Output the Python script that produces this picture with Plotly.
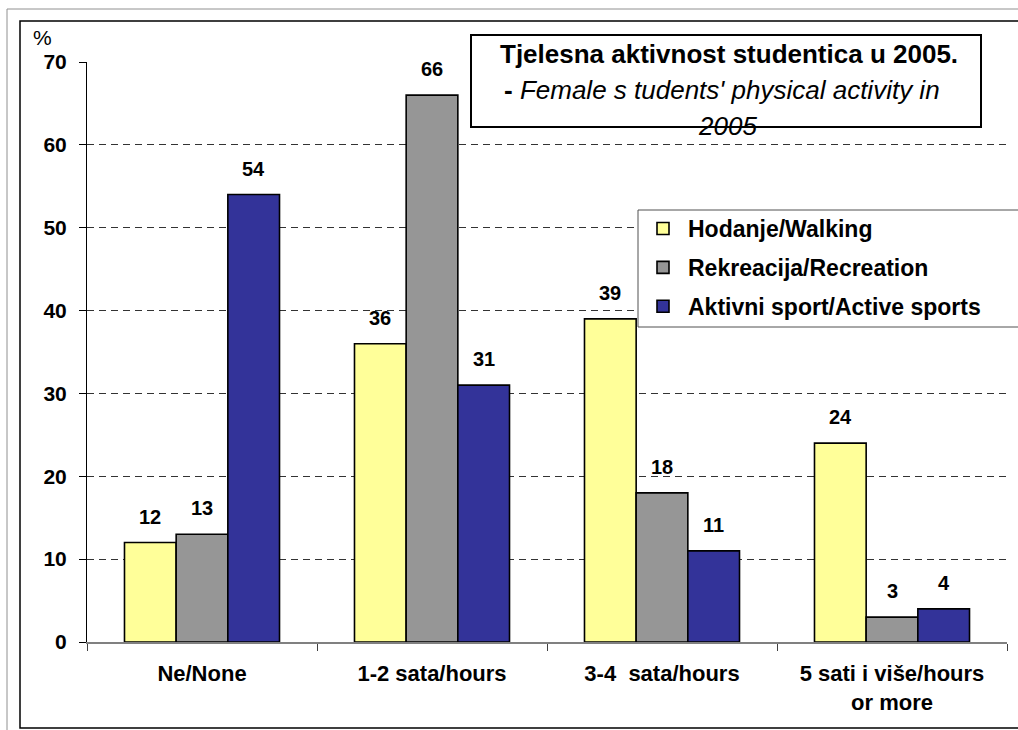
import plotly.graph_objects as go

categories = ["Ne/None", "1-2 sata/hours", "3-4  sata/hours", "5 sati i više/hours<br>or more"]
walking = [12, 36, 39, 24]
recreation = [13, 66, 18, 3]
active = [54, 31, 11, 4]
series_names = ["Hodanje/Walking", "Rekreacija/Recreation", "Aktivni sport/Active sports"]
series_colors = ["#FFFF99", "#969696", "#333399"]
y_ticks = [0, 10, 20, 30, 40, 50, 60, 70]

FONT = "Liberation Sans, Arial, sans-serif"
W, H = 1018, 730
ML, MR, MT, MB = 87, 11, 62, 88
PW, PH = W - ML - MR, H - MT - MB
BARGAP = 0.326

def px(x):
    return (x - ML) / PW

def py(y):
    return (H - MB - y) / PH

fig = go.Figure()
all_series = [walking, recreation, active]
for i, (name, vals, col) in enumerate(zip(series_names, all_series, series_colors)):
    fig.add_trace(go.Bar(
        x=categories, y=vals, name=name, legendgroup=name,
        marker=dict(color=col, line=dict(color="black", width=1.6)),
        cliponaxis=False,
    ))

# value labels above each bar
bar_w = PW / len(categories) * (1 - BARGAP) / len(all_series)
for i, vals in enumerate(all_series):
    for cat, v in zip(categories, vals):
        fig.add_annotation(
            x=cat, y=v, xref="x", yref="y", text=f"<b>{v}</b>", showarrow=False,
            xshift=(i - 1) * bar_w, yshift=13, yanchor="bottom", xanchor="center",
            font=dict(family=FONT, size=20, color="black"),
        )

fig.update_layout(
    width=W, height=H,
    margin=dict(l=ML, r=MR, t=MT, b=MB),
    paper_bgcolor="white", plot_bgcolor="white",
    barmode="group", bargap=BARGAP, bargroupgap=0,
    font=dict(family=FONT, size=18, color="black"),
    showlegend=True,
    legend=dict(
        x=px(638), y=py(207), xanchor="left", yanchor="top",
        borderwidth=0, bgcolor="rgba(0,0,0,0)",
        font=dict(family=FONT, size=23, color="black", weight="bold"),
        tracegroupgap=6, itemwidth=40,
    ),
    xaxis=dict(
        showline=True, linecolor="#808080", linewidth=1.5,
        ticks="outside", tickson="boundaries", ticklen=7, tickcolor="#404040",
        tickfont=dict(family=FONT, size=22, weight="bold"),
        ticklabelstandoff=11,
        showgrid=False,
    ),
    yaxis=dict(
        range=[0, 70], tickvals=y_ticks,
        showline=True, linecolor="black", linewidth=1,
        ticks="outside", ticklen=7, tickcolor="black",
        tickfont=dict(family=FONT, size=21, weight="bold"),
        ticklabelstandoff=8,
        showgrid=True, gridcolor="#333333", griddash="7px,5px", gridwidth=1,
        zeroline=False,
    ),
)

# outer frames
fig.add_shape(type="rect", xref="paper", yref="paper",
              x0=px(7), x1=px(1040), y0=py(745), y1=py(9),
              line=dict(color="#909090", width=1), layer="below")
fig.add_shape(type="rect", xref="paper", yref="paper",
              x0=px(20), x1=px(1040), y0=py(728), y1=py(21),
              line=dict(color="black", width=1.5), layer="below")

# legend box (extends past the right edge as in the reference)
fig.add_shape(type="rect", xref="paper", yref="paper",
              x0=px(638), x1=px(1040), y0=py(327), y1=py(210),
              line=dict(color="#505050", width=1), fillcolor="white", layer="above")

# % label
fig.add_annotation(xref="paper", yref="paper", x=px(42), y=py(38),
                   xanchor="center", yanchor="middle",
                   text="%", showarrow=False, font=dict(family=FONT, size=21, color="black"))

# title box
fig.add_shape(type="rect", xref="paper", yref="paper",
              x0=px(471), x1=px(981), y0=py(127), y1=py(35),
              line=dict(color="black", width=2), fillcolor="white", layer="above")
fig.add_annotation(xref="paper", yref="paper", x=px(729), y=py(54),
                   xanchor="center", yanchor="middle",
                   text="<b>Tjelesna aktivnost studentica u 2005.</b>", showarrow=False,
                   font=dict(family=FONT, size=26, color="black"))
fig.add_annotation(xref="paper", yref="paper", x=px(722), y=py(90),
                   xanchor="center", yanchor="middle",
                   text="<b>-</b> <i>Female s tudents' physical activity in</i>", showarrow=False,
                   font=dict(family=FONT, size=26, color="black"))
fig.add_annotation(xref="paper", yref="paper", x=px(727), y=py(126),
                   xanchor="center", yanchor="middle",
                   text="<i>2005</i>", showarrow=False,
                   font=dict(family=FONT, size=26, color="black"))

fig.write_html("out.html", config={"displayModeBar": False},
               post_script="document.body.style.margin='0';document.body.style.overflow='hidden';")
